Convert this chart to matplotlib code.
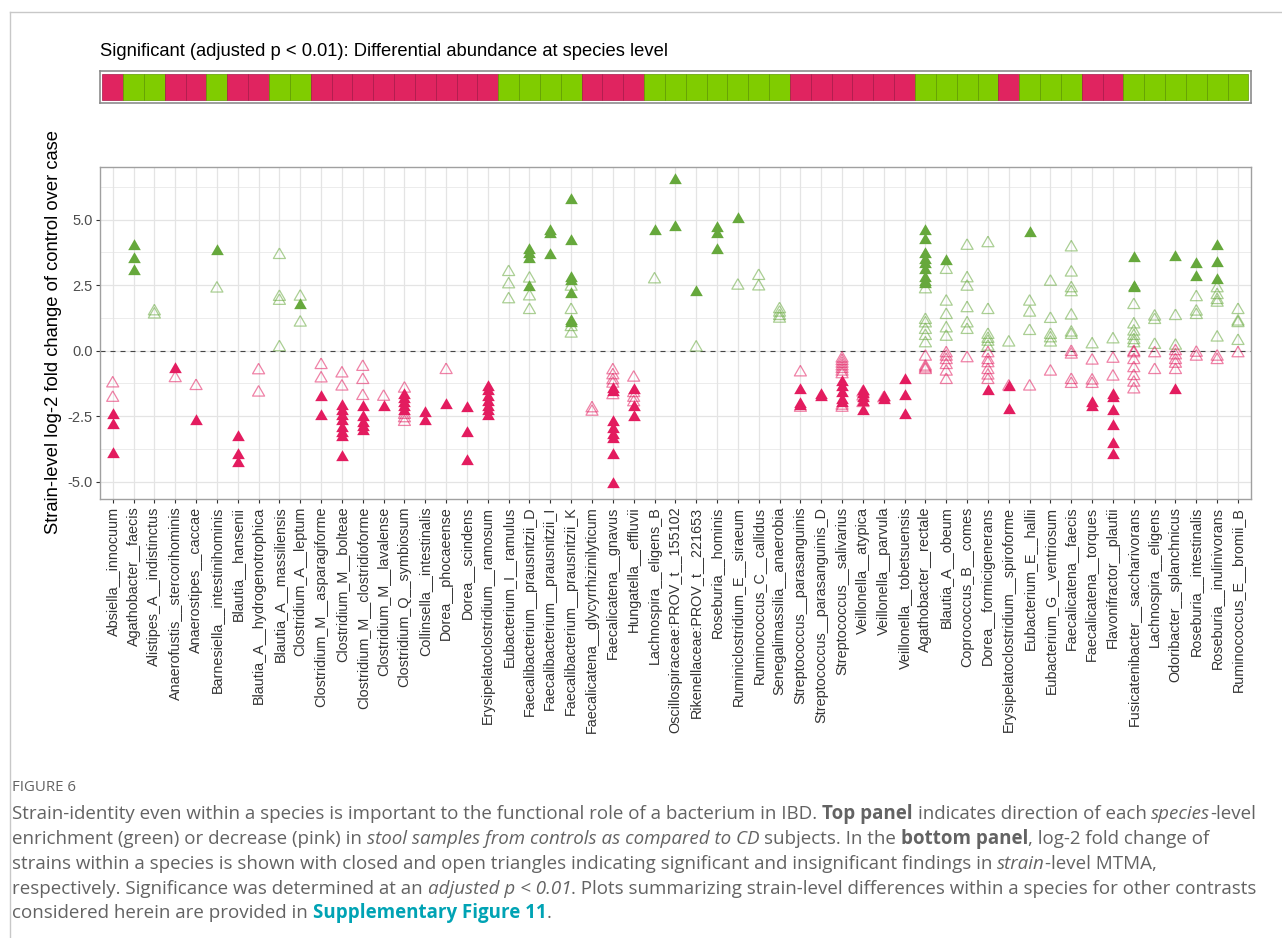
import matplotlib
matplotlib.use("Agg")
import matplotlib.pyplot as plt
from matplotlib.patches import Rectangle
from matplotlib.lines import Line2D
import numpy as np

# species (x axis), in plot order
species = [
    "Absiella__innocuum", "Agathobacter__faecis", "Alistipes_A__indistinctus",
    "Anaerofustis__stercorihominis", "Anaerostipes__caccae", "Barnesiella__intestinihominis",
    "Blautia__hansenii", "Blautia_A__hydrogenotrophica", "Blautia_A__massiliensis",
    "Clostridium_A__leptum", "Clostridium_M__asparagiforme", "Clostridium_M__bolteae",
    "Clostridium_M__clostridioforme", "Clostridium_M__lavalense", "Clostridium_Q__symbiosum",
    "Collinsella__intestinalis", "Dorea__phocaeense", "Dorea__scindens",
    "Erysipelatoclostridium__ramosum", "Eubacterium_I__ramulus", "Faecalibacterium__prausnitzii_D",
    "Faecalibacterium__prausnitzii_I", "Faecalibacterium__prausnitzii_K",
    "Faecalicatena__glycyrrhizinilyticum", "Faecalicatena__gnavus", "Hungatella__effluvii",
    "Lachnospira__eligens_B", "Oscillospiraceae:PROV_t__155102", "Rikenellaceae:PROV_t__221653",
    "Roseburia__hominis", "Ruminiclostridium_E__siraeum", "Ruminococcus_C__callidus",
    "Senegalimassilia__anaerobia", "Streptococcus__parasanguinis", "Streptococcus__parasanguinis_D",
    "Streptococcus__salivarius", "Veillonella__atypica", "Veillonella__parvula",
    "Veillonella__tobetsuensis", "Agathobacter__rectale", "Blautia_A__obeum",
    "Coprococcus_B__comes", "Dorea__formicigenerans", "Erysipelatoclostridium__spiroforme",
    "Eubacterium_E__hallii", "Eubacterium_G__ventriosum", "Faecalicatena__faecis",
    "Faecalicatena__torques", "Flavonifractor__plautii", "Fusicatenibacter__saccharivorans",
    "Lachnospira__eligens", "Odoribacter__splanchnicus", "Roseburia__intestinalis",
    "Roseburia__inulinivorans", "Ruminococcus_E__bromii_B",
]

# top panel: 1 = enriched in controls (green), 0 = decreased (pink)
species_up = [0, 1, 1, 0, 0, 1, 0, 0, 1, 1,
              0, 0, 0, 0, 0, 0, 0, 0, 0,
              1, 1, 1, 1,
              0, 0, 0,
              1, 1, 1, 1, 1, 1, 1,
              0, 0, 0, 0, 0, 0,
              1, 1, 1, 1,
              0,
              1, 1, 1,
              0, 0,
              1, 1, 1, 1, 1, 1]

# strain-level log2 fold change, significant strains (closed triangles)
strain_sig = [
    [-2.45, -2.85, -3.95],
    [4.0, 3.5, 3.05],
    [],
    [-0.7],
    [-2.68],
    [3.8],
    [-3.28, -3.98, -4.3],
    [],
    [],
    [1.74],
    [-1.76, -2.48],
    [-2.1, -2.3, -2.5, -2.7, -2.95, -3.15, -3.3, -4.05],
    [-2.15, -2.55, -2.75, -2.9, -3.05],
    [-2.16],
    [-1.7, -1.83, -2.0, -2.15, -2.3],
    [-2.38, -2.68],
    [-2.07],
    [-2.2, -3.16, -4.21],
    [-1.4, -1.55, -1.75, -1.95, -2.15, -2.3, -2.5],
    [],
    [3.85, 3.7, 3.5, 2.43],
    [4.55, 4.45, 3.65],
    [5.76, 4.17, 2.77, 2.65, 2.17, 1.15, 1.05],
    [],
    [-1.45, -1.58, -2.72, -3.0, -3.2, -3.38, -3.97, -5.07],
    [-1.5, -2.15, -2.52],
    [4.57],
    [6.5, 4.72],
    [2.23],
    [4.68, 4.47, 3.85],
    [5.03],
    [],
    [],
    [-1.5, -2.05, -2.12],
    [-1.68, -1.75],
    [-1.2, -1.38, -1.6, -1.88, -1.98],
    [-1.52, -1.65, -1.8, -1.95, -2.32],
    [-1.75, -1.87],
    [-1.12, -1.73, -2.45],
    [4.57, 4.22, 3.68, 3.46, 3.3, 3.08, 2.76, 2.63, 2.54],
    [3.44],
    [],
    [-1.53],
    [-1.4, -2.26],
    [4.48],
    [],
    [],
    [-2.01, -2.14],
    [-1.69, -1.82, -2.29, -2.86, -3.56, -3.98],
    [3.55, 2.44, 2.38],
    [],
    [3.56, -1.5],
    [3.3, 2.82],
    [4.0, 3.33, 2.7],
    [],
]

# not significant strains (open triangles)
strain_ns = [
    [-1.25, -1.8],
    [],
    [1.5, 1.38],
    [-1.05],
    [-1.35],
    [2.37],
    [],
    [-0.75, -1.6],
    [3.65, 2.05, 1.9, 0.13],
    [2.06, 1.07],
    [-0.55, -1.06],
    [-0.87, -1.37],
    [-0.62, -1.12, -1.73],
    [-1.76],
    [-1.45, -2.45, -2.58, -2.72],
    [],
    [-0.74],
    [],
    [],
    [3.0, 2.53, 1.96],
    [2.75, 2.07, 1.55],
    [],
    [2.44, 1.55, 0.9, 0.65],
    [-2.2, -2.33],
    [-0.75, -0.94, -1.13, -1.26, -1.7],
    [-1.03, -1.62, -1.8, -1.97],
    [2.72],
    [],
    [0.12],
    [],
    [2.48],
    [2.85, 2.45],
    [1.58, 1.45, 1.32, 1.22],
    [-0.83, -2.18],
    [],
    [-0.3, -0.4, -0.5, -0.6, -0.7, -0.8, -0.9, -2.1, -2.18],
    [-1.6, -1.75, -2.0],
    [-1.82],
    [],
    [2.34, 1.17, 1.04, 0.79, 0.56, 0.28, -0.23, -0.61, -0.68, -0.74],
    [3.08, 1.87, 1.36, 0.85, 0.53, -0.1, -0.23, -0.36, -0.55, -0.8, -1.12],
    [4.0, 2.76, 2.44, 1.62, 1.04, 0.79, -0.29],
    [4.1, 1.55, 0.6, 0.45, 0.34, 0.15, -0.1, -0.36, -0.48, -0.74, -0.95, -1.12],
    [0.31, -1.37],
    [1.87, 1.45, 0.75, -1.37],
    [2.63, 1.21, 0.6, 0.47, 0.31, -0.8],
    [3.94, 2.98, 2.38, 2.23, 1.34, 0.69, 0.6, -0.05, -0.15, -1.12, -1.27],
    [0.24, -0.38, -1.14, -1.27],
    [0.43, -0.31, -0.99],
    [1.74, 1.0, 0.73, 0.56, 0.4, 0.28, -0.05, -0.1, -0.36, -0.67, -0.97, -1.22, -1.48],
    [1.3, 1.17, 0.22, -0.1, -0.74],
    [1.32, 0.19, -0.02, -0.18, -0.36, -0.5, -0.74],
    [2.04, 1.49, 1.36, -0.08, -0.23],
    [2.38, 2.12, 1.93, 1.83, 0.5, -0.23, -0.36],
    [1.55, 1.11, 1.05, 0.37, -0.1],
]

W, H = 1282, 938
TILE_PINK = "#E02460"
TILE_GREEN = "#80CC00"
PT_GREEN = "#66A83C"
PT_PINK = "#E31C5F"
GRID = "#E4E4E4"

plt.rcParams["font.family"] = ["Liberation Sans", "DejaVu Sans"]

fig = plt.figure(figsize=(W / 100, H / 100), dpi=100)

def fbox(x0, y0, x1, y1):
    return [x0 / W, 1 - y1 / H, (x1 - x0) / W, (y1 - y0) / H]

# page frame lines
fig.add_artist(Line2D([10 / W, 1], [1 - 12 / H, 1 - 12 / H], color="#C8C8C8", lw=1))
fig.add_artist(Line2D([10 / W, 10 / W], [0, 1 - 12 / H], color="#C8C8C8", lw=1))

# ---- top strip
sx = fig.add_axes(fbox(100.2, 71, 1250.5, 103))
for i, up in enumerate(species_up):
    col = TILE_GREEN if up else TILE_PINK
    edge = "#5E9A00" if up else "#A81848"
    sx.add_patch(Rectangle((i - 0.5, 0), 1, 1, facecolor=col, edgecolor=edge, lw=0.5))
sx.set_xlim(-0.6, len(species) - 0.4)
sx.set_ylim(-0.1, 1.1)
sx.set_xticks([])
sx.set_yticks([])
for s in sx.spines.values():
    s.set_color("#8C8C8C")
    s.set_linewidth(1.2)
fig.text(100 / W, 1 - 52 / H, "Significant (adjusted p < 0.01): Differential abundance at species level",
         fontsize=13.2, ha="left", va="center", color="black")

# ---- main panel
ax = fig.add_axes(fbox(100.2, 166.7, 1250.5, 499))
xs_sig, ys_sig, xs_ns, ys_ns = [], [], [], []
for i in range(len(species)):
    xs_sig += [i] * len(strain_sig[i])
    ys_sig += strain_sig[i]
    xs_ns += [i] * len(strain_ns[i])
    ys_ns += strain_ns[i]
xs_sig, ys_sig = np.array(xs_sig), np.array(ys_sig)
xs_ns, ys_ns = np.array(xs_ns), np.array(ys_ns)

tri = [(0, 1), (-0.866, -0.5), (0.866, -0.5), (0, 1)]
for up, col in [(True, PT_GREEN), (False, PT_PINK)]:
    m = (ys_ns > 0) == up
    ax.scatter(xs_ns[m], ys_ns[m], marker=tri, s=100, facecolors="none",
               edgecolors=col, linewidths=0.9, alpha=0.55, zorder=3)
    m = (ys_sig > 0) == up
    ax.scatter(xs_sig[m], ys_sig[m], marker=tri, s=110, color=col, lw=0, zorder=4)

ax.axhline(0, color="#444444", lw=0.8, dashes=(4.5, 4.5), zorder=2)
ax.set_xlim(-0.6, len(species) - 0.4)
ax.set_ylim(-5.66, 7.02)
ax.set_xticks(range(len(species)))
ax.set_xticklabels(species, rotation=90, fontsize=10.4, color="#333333")
ax.set_yticks([-5, -2.5, 0, 2.5, 5])
ax.set_yticklabels(["-5.0", "-2.5", "0.0", "2.5", "5.0"], fontsize=10.5, color="#4D4D4D")
ax.set_yticks([-3.75, -1.25, 1.25, 3.75, 6.25], minor=True)
ax.tick_params(axis="both", which="major", length=3, width=0.8, color="#333333", pad=2.5)
ax.tick_params(axis="y", which="minor", length=0)
ax.grid(True, which="major", color=GRID, lw=0.9, zorder=0)
ax.grid(True, which="minor", axis="y", color=GRID, lw=0.5, zorder=0)
ax.set_axisbelow(True)
for s in ax.spines.values():
    s.set_color("#A0A0A0")
    s.set_linewidth(1)

fig.text(54 / W, 1 - 332 / H, "Strain-level log-2 fold change of control over case",
         rotation=90, fontsize=13.2, ha="center", va="center", color="black")

# ---- caption
CAP = "#636363"
TEAL = "#00A3B4"
CAP_FONT = ["Open Sans", "DejaVu Sans"]
styles = {
    "n": dict(color=CAP),
    "b": dict(color=CAP, fontweight="bold"),
    "i": dict(color=CAP, style="italic"),
    "l": dict(color=TEAL, fontweight="bold"),
}
caption = [
    [("Strain-identity even within a species is important to the functional role of a bacterium in IBD. ", "n"),
     ("Top panel", "b"), (" indicates direction of each ", "n"), ("species", "i"), ("-level", "n")],
    [("enrichment (green) or decrease (pink) in ", "n"),
     ("stool samples from controls as compared to CD", "i"), (" subjects. In the ", "n"),
     ("bottom panel", "b"), (", log-2 fold change of", "n")],
    [("strains within a species is shown with closed and open triangles indicating significant and insignificant findings in ", "n"),
     ("strain", "i"), ("-level MTMA,", "n")],
    [("respectively. Significance was determined at an ", "n"), ("adjusted p < 0.01", "i"),
     (". Plots summarizing strain-level differences within a species for other contrasts", "n")],
    [("considered herein are provided in ", "n"), ("Supplementary Figure 11", "l"), (".", "n")],
]
cap_base = [819, 844, 868.5, 893.5, 918]

renderer = fig.canvas.get_renderer()

def text_w(txt, size, st):
    t = fig.text(0, 0, txt, fontsize=size, family=CAP_FONT, **styles[st])
    w = t.get_window_extent(renderer).width
    t.remove()
    return w

def draw_line(segs, x, y, size, draw=True):
    for txt, st in segs:
        lead = len(txt) - len(txt.lstrip(" "))
        trail = len(txt) - len(txt.rstrip(" "))
        sp = text_w("a a", size, st) - text_w("aa", size, st)
        x += lead * sp
        core = txt.strip(" ")
        if draw:
            fig.text(x / W, 1 - y / H, core, fontsize=size, family=CAP_FONT,
                     ha="left", va="baseline", **styles[st])
        x += text_w(core, size, st) + trail * sp
    return x

# size the caption so the first line spans the column width
size0 = 10.0
w0 = draw_line(caption[0], 0, 0, size0, draw=False)
cap_size = size0 * 1250 / w0

fig.text(12 / W, 1 - 791 / H, "FIGURE 6", fontsize=cap_size * 0.8, family=CAP_FONT,
         color=CAP, ha="left", va="baseline")
for segs, yb in zip(caption, cap_base):
    draw_line(segs, 12, yb, cap_size)

fig.savefig("out.png", dpi=100)
